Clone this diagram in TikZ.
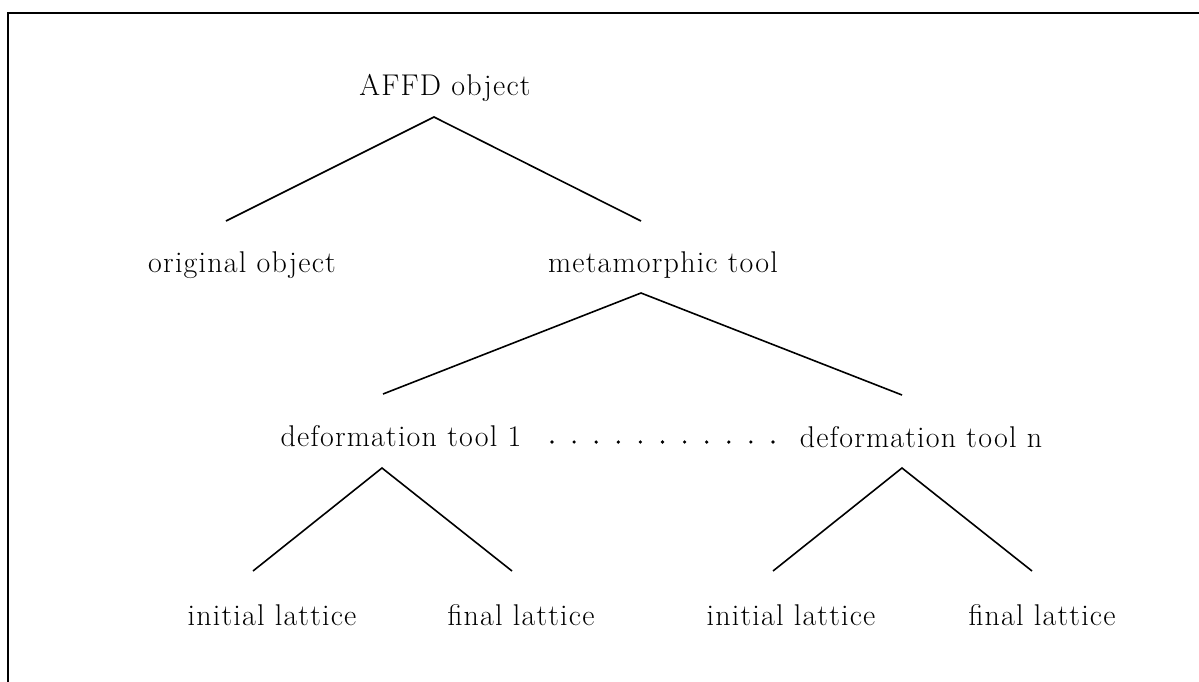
\documentclass[tikz,border=0pt]{standalone}
\usepackage{fontspec}
\setmainfont{Latin Modern Roman}
\begin{document}
\begin{tikzpicture}[x=0.5pt,y=-0.5pt,
  lbl/.style={anchor=base,inner sep=0pt,font=\fontsize{15}{18}\selectfont\addfontfeatures{LetterSpace=4}},
  edge/.style={line width=0.8pt},
  frameline/.style={line width=1pt},
  dotmark/.style={circle,fill=black,inner sep=0pt,minimum size=1.8pt}]
\useasboundingbox (0,0) rectangle (1199,681);
% frame (only left and top edges are inside the picture)
\coordinate (fb) at (8,700);
\coordinate (ftl) at (8,13);
\coordinate (fr) at (1220,13);
\draw[frameline] (fb) -- (ftl) -- (fr);
% labels
\node[lbl] (affd) at (445,95) {AFFD object};
\node[lbl] (orig) at (242,272) {original object};
\node[lbl] (meta) at (663,272) {metamorphic tool};
\node[lbl] (def1) at (401,446) {deformation tool 1};
\node[lbl] (defn) at (921,447) {deformation tool n};
\node[lbl] (il1) at (272,625) {initial lattice};
\node[lbl] (fl1) at (521,625) {final lattice};
\node[lbl] (il2) at (791,625) {initial lattice};
\node[lbl] (fl2) at (1042,625) {final lattice};
% dots
\foreach \i in {0,...,10}
  \node[dotmark] (dot\i) at (552+\i*22.1,442) {};
% connector points
\coordinate (p1) at (434,117);
\coordinate (p1l) at (226,221);
\coordinate (p1r) at (641,221);
\coordinate (p2) at (641,293);
\coordinate (p2l) at (383,394);
\coordinate (p2r) at (902,395);
\coordinate (p3) at (382,468);
\coordinate (p3l) at (253,571);
\coordinate (p3r) at (512,571);
\coordinate (p4) at (902,468);
\coordinate (p4l) at (773,571);
\coordinate (p4r) at (1032,571);
\draw[edge] (p1l) -- (p1) -- (p1r);
\draw[edge] (p2l) -- (p2) -- (p2r);
\draw[edge] (p3l) -- (p3) -- (p3r);
\draw[edge] (p4l) -- (p4) -- (p4r);
\end{tikzpicture}
\end{document}
